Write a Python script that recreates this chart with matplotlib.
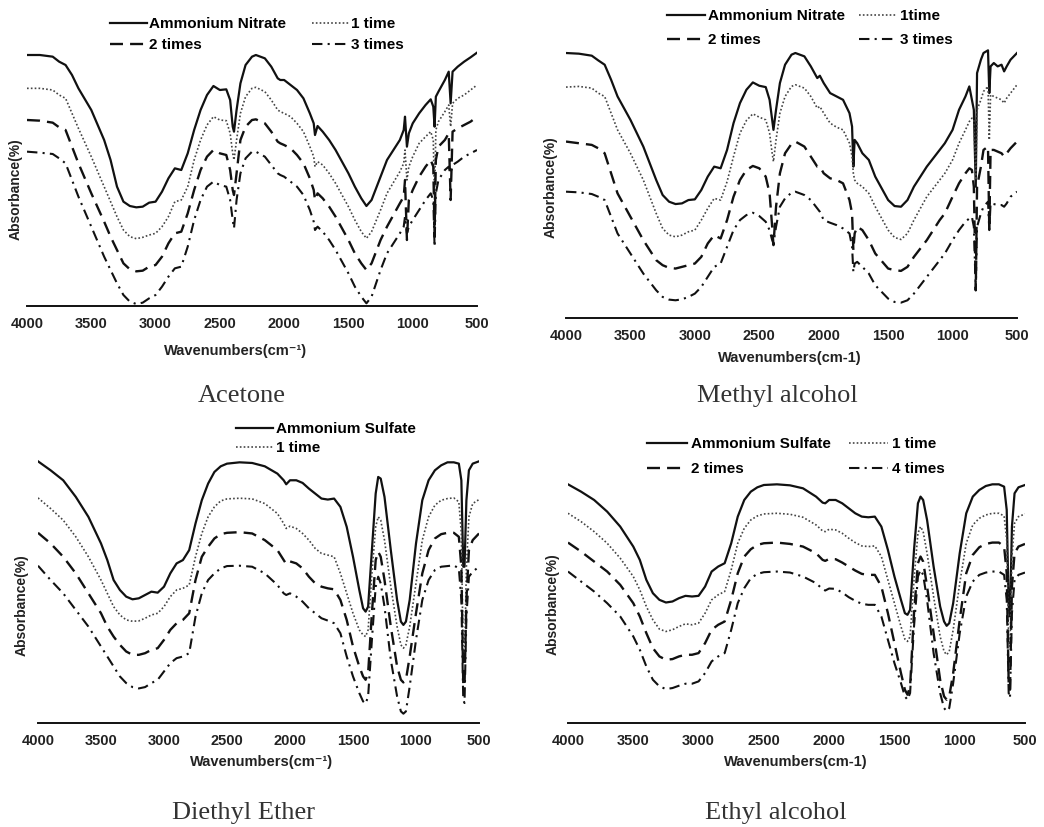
import matplotlib
matplotlib.use("Agg")
import matplotlib.pyplot as plt

plt.rcParams['font.family'] = ['Liberation Sans', 'DejaVu Sans']

W, H = 1044, 827

# Spectra. Values are the trace depth in arbitrary
# units measured downward (y axis is inverted), so bands point down.

# ---- Acetone (Ammonium Nitrate) ----
acetone_wn = [4000, 3900, 3800, 3750, 3700, 3650, 3600, 3500, 3400, 3350,
              3300, 3250, 3200, 3150, 3100, 3050, 3000, 2950, 2900, 2850,
              2800, 2750, 2700, 2650, 2600, 2550, 2500, 2450, 2420, 2400,
              2390, 2370, 2340, 2300, 2250, 2220, 2150, 2100, 2050, 2030,
              2000, 1950, 1900, 1850, 1800, 1770, 1760, 1740, 1700, 1650,
              1600, 1500, 1450, 1400, 1360, 1320, 1250, 1200, 1100, 1070,
              1060, 1045, 1030, 1000, 950, 900, 860, 840, 830, 820,
              800, 750, 720, 705, 690, 650, 600, 550, 500]
acetone_base = [165, 165, 170, 185, 195, 225, 265, 330, 420, 480,
                560, 605, 618, 622, 620, 608, 605, 575, 535, 505,
                510, 460, 390, 330, 285, 258, 270, 268, 300, 380,
                395, 330, 250, 195, 170, 165, 175, 200, 235, 240,
                240, 255, 270, 295, 340, 370, 405, 378, 395, 420,
                450, 520, 560, 595, 618, 600, 530, 480, 420, 390,
                350, 440, 400, 370, 340, 315, 298, 320, 380, 290,
                275, 240, 215, 310, 215, 200, 185, 172, 158]
acetone_1 = [265, 265, 270, 285, 295, 340, 385, 470, 560, 605,
             650, 690, 710, 716, 712, 705, 700, 680, 650, 605,
             600, 560, 480, 420, 375, 350, 360, 362, 400, 460,
             480, 420, 340, 290, 265, 262, 275, 300, 330, 335,
             340, 350, 370, 395, 440, 470, 500, 485, 495, 520,
             550, 620, 660, 695, 715, 695, 630, 580, 515, 490,
             450, 540, 500, 470, 430, 410, 395, 420, 600, 390,
             365, 335, 315, 380, 310, 295, 285, 270, 255]
acetone_2 = [360, 362, 368, 382, 390, 440, 490, 580, 665, 710,
             750, 790, 808, 814, 812, 800, 795, 770, 730, 700,
             695, 640, 570, 510, 470, 450, 460, 465, 510, 570,
             585, 520, 420, 380, 360, 358, 370, 395, 425, 430,
             435, 445, 465, 490, 535, 570, 600, 580, 595, 620,
             650, 720, 760, 790, 810, 790, 720, 680, 610, 590,
             540, 720, 600, 570, 530, 500, 480, 500, 700, 480,
             440, 420, 400, 600, 395, 385, 375, 365, 350]
acetone_3 = [455, 458, 462, 475, 490, 540, 590, 680, 770, 810,
             850, 885, 905, 912, 908, 895, 885, 860, 830, 805,
             800, 740, 660, 600, 560, 545, 555, 560, 600, 660,
             685, 600, 520, 475, 455, 455, 470, 495, 520, 525,
             530, 545, 560, 585, 630, 665, 690, 680, 695, 720,
             750, 820, 860, 890, 910, 890, 810, 760, 700, 680,
             650, 700, 680, 660, 630, 600, 580, 600, 740, 580,
             540, 510, 500, 520, 495, 485, 470, 460, 450]

# ---- Methyl alcohol (Ammonium Nitrate) ----
methyl_wn = [4000, 3900, 3800, 3750, 3700, 3650, 3600, 3500, 3400, 3300,
             3250, 3200, 3150, 3100, 3050, 3000, 2950, 2900, 2850, 2800,
             2750, 2700, 2650, 2600, 2550, 2500, 2450, 2420, 2400, 2390,
             2370, 2340, 2300, 2250, 2220, 2150, 2100, 2050, 2030, 2000,
             1950, 1900, 1850, 1800, 1780, 1770, 1760, 1740, 1700, 1650,
             1600, 1500, 1450, 1400, 1350, 1300, 1200, 1100, 1060, 1000,
             950, 900, 870, 850, 835, 820, 810, 780, 760, 725,
             715, 705, 680, 650, 620, 600, 580, 550, 500]
methyl_base = [160, 162, 168, 182, 195, 240, 290, 360, 440, 540,
               585, 605, 612, 610, 600, 598, 570, 530, 500, 505,
               450, 370, 310, 270, 248, 258, 262, 300, 360, 390,
               330, 250, 195, 165, 160, 170, 200, 235, 228, 250,
               280, 290, 300, 340, 380, 500, 420, 430, 460, 480,
               530, 600, 618, 620, 600, 560, 500, 450, 430, 390,
               330, 290, 260, 300, 330, 560, 220, 180, 160, 152,
               280, 200, 190, 200, 195, 215, 200, 180, 160]
methyl_1 = [262, 260, 265, 280, 290, 340, 390, 460, 540, 640,
            685, 705, 710, 705, 695, 690, 660, 625, 595, 600,
            545, 470, 400, 362, 342, 352, 360, 400, 460, 485,
            420, 340, 290, 260, 255, 265, 290, 325, 320, 340,
            370, 382, 390, 430, 470, 520, 540, 550, 560, 580,
            620, 690, 712, 718, 700, 660, 590, 540, 520, 480,
            430, 390, 365, 355, 360, 540, 330, 300, 275, 260,
            420, 285, 290, 295, 300, 310, 295, 280, 255]
methyl_2 = [425, 430, 435, 445, 460, 520, 580, 650, 720, 780,
            795, 803, 805, 800, 795, 790, 770, 730, 705, 715,
            660, 590, 540, 510, 498, 505, 530, 580, 680, 735,
            620, 520, 460, 432, 425, 440, 470, 500, 500, 520,
            535, 540, 550, 600, 640, 750, 700, 680, 690, 720,
            760, 805, 810, 812, 800, 770, 720, 660, 640, 590,
            550, 520, 505, 510, 560, 870, 560, 500, 450, 440,
            690, 450, 450, 455, 460, 470, 460, 445, 425]
methyl_3 = [575, 577, 582, 590, 600, 650, 700, 760, 820, 870,
            890, 898, 900, 897, 890, 880, 860, 830, 800, 790,
            740, 690, 660, 645, 638, 648, 665, 690, 720, 730,
            680, 620, 595, 578, 575, 585, 600, 625, 635, 660,
            668, 675, 685, 700, 740, 815, 790, 785, 800, 820,
            855, 895, 905, 907, 900, 880, 830, 780, 760, 720,
            690, 665, 655, 650, 680, 870, 680, 640, 620, 605,
            690, 610, 612, 615, 615, 620, 610, 590, 575]

# ---- Diethyl ether and ethyl alcohol (Ammonium Sulfate) share one grid ----
sulfate_wn = [4000, 3900, 3800, 3700, 3600, 3500, 3450, 3400, 3350, 3300,
              3250, 3200, 3150, 3100, 3050, 3000, 2950, 2900, 2850, 2800,
              2750, 2700, 2650, 2600, 2550, 2500, 2400, 2300, 2200, 2100,
              2050, 2030, 2000, 1950, 1900, 1850, 1800, 1750, 1700, 1650,
              1600, 1550, 1500, 1450, 1420, 1400, 1380, 1350, 1320, 1300,
              1280, 1250, 1200, 1150, 1120, 1100, 1080, 1050, 1000, 950,
              900, 850, 800, 750, 700, 660, 640, 625, 615, 600,
              580, 550, 500]
ether_base = [183, 210, 240, 290, 350, 430, 480, 540, 570, 590,
              598, 595, 585, 575, 578, 560, 520, 490, 480, 450,
              370, 300, 250, 215, 198, 190, 186, 188, 198, 220,
              240, 252, 240, 240, 248, 265, 280, 295, 298, 295,
              320, 380, 470, 570, 625, 635, 620, 450, 280, 230,
              235, 290, 450, 600, 665, 675, 665, 600, 430, 300,
              240, 210, 195, 186, 186, 190, 240, 500, 500, 300,
              210, 190, 183]
ether_1 = [293, 325, 360, 410, 470, 540, 580, 620, 645, 660,
           664, 663, 655, 645, 640, 620, 590, 570, 565, 555,
           470, 400, 350, 320, 302, 296, 294, 296, 310, 340,
           370, 385, 378, 385, 400, 420, 445, 460, 465, 470,
           520, 580, 640, 690, 705, 710, 690, 520, 380, 350,
           360, 420, 560, 680, 735, 745, 735, 680, 550, 420,
           350, 315, 300, 295, 293, 305, 400, 780, 790, 500,
           350, 310, 298]
ether_2 = [398, 430, 470, 520, 580, 640, 680, 710, 735, 755,
           765, 765, 760, 750, 745, 720, 690, 670, 660, 640,
           540, 470, 440, 415, 402, 398, 396, 400, 420, 450,
           480, 492, 484, 490, 505, 530, 550, 560, 565, 568,
           600, 660, 740, 800, 830, 840, 820, 640, 480, 455,
           470, 540, 680, 800, 840, 848, 840, 770, 640, 520,
           450, 415, 402, 398, 398, 410, 500, 850, 860, 600,
           450, 420, 400]
ether_3 = [497, 540, 580, 630, 680, 740, 770, 800, 830, 850,
           862, 866, 862, 850, 840, 815, 790, 775, 770, 760,
           650, 580, 540, 520, 505, 498, 497, 500, 520, 555,
           580, 585, 580, 590, 605, 625, 640, 655, 662, 670,
           700, 770, 830, 880, 905, 912, 890, 720, 560, 530,
           550, 620, 780, 890, 935, 942, 935, 860, 720, 600,
           540, 510, 500, 498, 496, 505, 600, 900, 910, 650,
           530, 515, 500]

ethyl_base = [253, 275, 300, 335, 380, 440, 480, 540, 580, 600,
              608, 605, 595, 588, 590, 588, 560, 515, 500, 490,
              430, 350, 300, 275, 262, 255, 253, 256, 265, 290,
              308, 310, 300, 300, 310, 325, 340, 350, 352, 350,
              380, 450, 530, 600, 640, 645, 630, 450, 310, 290,
              300, 360, 500, 620, 665, 678, 670, 610, 460, 340,
              290, 270, 258, 253, 253, 260, 330, 620, 650, 380,
              280, 262, 255]
ethyl_1 = [340, 365, 395, 430, 475, 530, 570, 620, 660, 688,
           695, 690, 680, 672, 675, 670, 640, 600, 585, 575,
           510, 430, 385, 360, 348, 342, 340, 343, 352, 375,
           393, 395, 388, 390, 400, 415, 428, 438, 440, 438,
           470, 540, 610, 680, 718, 725, 710, 540, 400, 380,
           395, 460, 590, 710, 755, 765, 755, 690, 550, 430,
           375, 355, 345, 340, 340, 348, 420, 720, 740, 470,
           370, 350, 342]
ethyl_2 = [428, 455, 485, 515, 555, 610, 650, 700, 745, 770,
           780, 778, 770, 765, 765, 760, 730, 690, 675, 665,
           600, 520, 470, 448, 435, 430, 428, 432, 440, 460,
           480, 483, 477, 478, 488, 500, 512, 522, 525, 525,
           560, 640, 730, 820, 870, 885, 860, 640, 490, 470,
           485, 560, 700, 840, 890, 900, 890, 820, 660, 520,
           465, 442, 432, 428, 428, 440, 520, 850, 870, 560,
           460, 440, 432]
ethyl_4 = [515, 545, 575, 610, 650, 710, 750, 800, 840, 860,
           868, 865, 858, 852, 852, 845, 820, 785, 770, 760,
           690, 610, 565, 535, 522, 517, 515, 518, 530, 550,
           568, 572, 566, 567, 578, 592, 603, 612, 615, 615,
           650, 720, 790, 850, 890, 900, 880, 680, 530, 510,
           525, 600, 760, 880, 925, 935, 925, 850, 700, 590,
           545, 525, 518, 515, 515, 525, 600, 880, 895, 640,
           540, 525, 518]

tick_vals = [4000, 3500, 3000, 2500, 2000, 1500, 1000, 500]


def px(x, y):
    return x / W, 1 - y / H


STYLES = [
    dict(color='#111111', lw=1.6, ls='-'),
    dict(color='#444444', lw=1.2, ls=(0, (1, 1.3))),
    dict(color='#111111', lw=1.7, ls=(0, (5.5, 3))),
    dict(color='#111111', lw=1.5, ls=(0, (5, 2.5, 1, 2.5))),
]

panels = [
    dict(rect=(27, 50, 477, 306), ylim=(918, 150), wn=acetone_wn,
         series=[acetone_base, acetone_1, acetone_2, acetone_3],
         labels=['Ammonium Nitrate', '1 time', '2 times', '3 times'],
         nleg=4, leg=(110, 17), legkw=dict(handlelength=2.4, handletextpad=0.15,
                                           columnspacing=1.7, labelspacing=0.48),
         xlabel='Wavenumbers(cm\u207b\u00b9)', xl=(236, 351),
         yl=(16, 189), caption='Acetone', cap=(242, 396)),
    dict(rect=(566, 48, 1017, 318), ylim=(953, 145), wn=methyl_wn,
         series=[methyl_base, methyl_1, methyl_2, methyl_3],
         labels=['Ammonium Nitrate', '1time', '2 times', '3 times'],
         nleg=4, leg=(667, 9), legkw=dict(handlelength=2.5, handletextpad=0.2,
                                          columnspacing=0.9, labelspacing=0.68),
         xlabel='Wavenumbers(cm-1)', xl=(790, 358),
         yl=(551, 187), caption='Methyl alcohol', cap=(777, 396)),
    dict(rect=(38, 457, 479, 723), ylim=(970, 170), wn=sulfate_wn,
         series=[ether_base, ether_1, ether_2, ether_3],
         labels=['Ammonium Sulfate', '1 time', '2 times', '3 times'],
         nleg=2, leg=(236, 422), legkw=dict(handlelength=2.4, handletextpad=0.2,
                                            labelspacing=0.35),
         xlabel='Wavenumbers(cm\u207b\u00b9)', xl=(262, 762),
         yl=(22, 605), caption='Diethyl Ether', cap=(244, 813)),
    dict(rect=(568, 480, 1025, 723), ylim=(970, 240), wn=sulfate_wn,
         series=[ethyl_base, ethyl_1, ethyl_2, ethyl_4],
         labels=['Ammonium Sulfate', '1 time', '2 times', '4 times'],
         nleg=4, leg=(647, 437), legkw=dict(handlelength=2.6, handletextpad=0.25,
                                            columnspacing=1.2, labelspacing=0.75),
         xlabel='Wavenumbers(cm-1)', xl=(796, 762),
         yl=(553, 604), caption='Ethyl alcohol', cap=(776, 813)),
]

fig = plt.figure(figsize=(W / 100, H / 100), dpi=100)

for p in panels:
    x0, y0, x1, y1 = p['rect']
    ax = fig.add_axes([x0 / W, 1 - y1 / H, (x1 - x0) / W, (y1 - y0) / H])
    lines = []
    for vals, st, lab in zip(p['series'], STYLES, p['labels']):
        ln, = ax.plot(p['wn'], vals, label=lab, **st)
        lines.append(ln)
    ax.set_xlim(4000, 500)
    ax.set_ylim(*p['ylim'])
    for s in ['top', 'right', 'left']:
        ax.spines[s].set_visible(False)
    ax.spines['bottom'].set_linewidth(1.4)
    ax.spines['bottom'].set_color('#111111')
    ax.set_yticks([])
    ax.set_xticks(tick_vals)
    ax.set_xticklabels([str(t) for t in tick_vals], fontsize=10.5,
                       fontweight='bold', color='#222222')
    ax.tick_params(axis='x', length=0, pad=8)

    if p['nleg'] == 4:
        handles = [lines[0], lines[2], lines[1], lines[3]]
        ncol = 2
    else:
        handles = lines[:2]
        ncol = 1
    lx, ly = px(*p['leg'])
    ax.legend(handles=handles, loc='upper left', bbox_to_anchor=(lx, ly),
              bbox_transform=fig.transFigure, ncol=ncol, frameon=False,
              borderpad=0, borderaxespad=0,
              prop=dict(weight='bold', size=11), **p['legkw'])

    fig.text(*px(*p['xl']), p['xlabel'], ha='center', va='center',
             fontsize=10.5, fontweight='bold', color='#222222')
    fig.text(*px(*p['yl']), 'Absorbance(%)', ha='center', va='center',
             rotation=90, fontsize=10, fontweight='bold', color='#222222')
    fig.text(*px(*p['cap']), p['caption'], ha='center', va='center',
             fontsize=19, family='Liberation Serif', color='#333333')

fig.savefig('out.png', dpi=100)
